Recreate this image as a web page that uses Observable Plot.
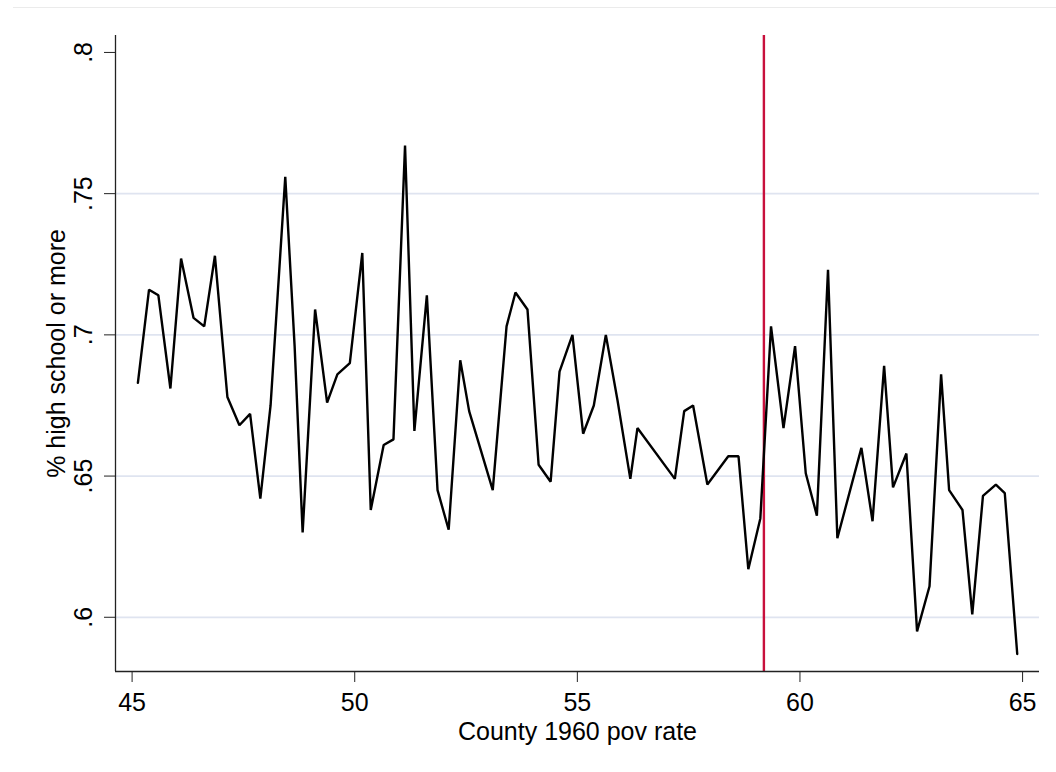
<!DOCTYPE html>
<html>
<head>
<meta charset="utf-8">
<script src="https://cdn.jsdelivr.net/npm/d3@7"></script>
<script src="https://cdn.jsdelivr.net/npm/@observablehq/plot@0.6"></script>
<style>
  html, body { margin: 0; padding: 0; background: #fff; }
  #wrap { position: relative; width: 1056px; height: 772px; }
  #topline { position: absolute; left: 13px; right: 0; top: 7px; height: 0; border-top: 1px solid #ebebeb; }
</style>
</head>
<body>
<div id="wrap"><div id="topline"></div><div id="chart"></div></div>
<script>
const povRate = [45.13,45.38,45.59,45.86,46.10,46.38,46.62,46.86,47.14,47.41,
  47.65,47.88,48.11,48.44,48.65,48.83,49.11,49.38,49.61,49.89,
  50.17,50.36,50.65,50.87,51.13,51.34,51.62,51.86,52.11,52.37,
  52.57,53.10,53.41,53.61,53.88,54.13,54.40,54.60,54.89,55.13,
  55.37,55.64,55.90,56.19,56.35,57.19,57.40,57.60,57.92,58.39,
  58.62,58.84,59.11,59.35,59.63,59.89,60.13,60.38,60.63,60.84,
  61.38,61.63,61.89,62.09,62.39,62.63,62.91,63.17,63.35,63.65,
  63.87,64.11,64.40,64.60,64.88];
const hsShare = [.683,.716,.714,.681,.727,.706,.703,.728,.678,.668,
  .672,.642,.675,.756,.696,.630,.709,.676,.686,.690,
  .729,.638,.661,.663,.767,.666,.714,.645,.631,.691,
  .673,.645,.703,.715,.709,.654,.648,.687,.700,.665,
  .675,.700,.677,.649,.667,.649,.673,.675,.647,.657,
  .657,.617,.635,.703,.667,.696,.651,.636,.723,.628,
  .660,.634,.689,.646,.658,.595,.611,.686,.645,.638,
  .601,.643,.647,.644,.587];
const cutoff = [59.19];
const xTicks = [45, 50, 55, 60, 65];
const yTicks = [0.6, 0.65, 0.7, 0.75, 0.8];
const yGrid = [0.6, 0.65, 0.7, 0.75];
const xTitle = "County 1960 pov rate";
const yTitle = "% high school or more";

const data = povRate.map((x, i) => ({x, y: hsShare[i]}));
const xDomain = [44.627, 65.38];
const yDomain = [0.5808, 0.806];
const fmtY = d => String(d).replace(/^0/, "");

const chart = Plot.plot({
  width: 1056,
  height: 772,
  marginTop: 35,
  marginBottom: 101,
  marginLeft: 115,
  marginRight: 17,
  style: {fontFamily: "'Liberation Sans', Arial, Helvetica, sans-serif", fontSize: "25px", color: "#000", background: "transparent"},
  x: {domain: xDomain},
  y: {domain: yDomain},
  marks: [
    Plot.ruleY(yGrid, {stroke: "#dfe4f0", strokeWidth: 1.7}),
    Plot.ruleX(cutoff, {stroke: "#c8103c", strokeWidth: 2.4}),
    Plot.line(data, {x: "x", y: "y", stroke: "#000", strokeWidth: 2.4, strokeLinejoin: "miter"}),
    Plot.ruleX([xDomain[0]], {stroke: "#222", strokeWidth: 1.3}),
    Plot.ruleY([yDomain[0]], {stroke: "#222", strokeWidth: 1.3}),
    Plot.axisX({ticks: xTicks, tickSize: 11, tickPadding: 11, tickFormat: d => String(d),
      label: xTitle, labelAnchor: "center", labelOffset: 68, labelArrow: "none", stroke: "#222"}),
    Plot.axisY({ticks: yTicks, tickSize: 11, tickRotate: -90, tickPadding: 13, tickFormat: fmtY,
      label: yTitle, labelAnchor: "center", labelOffset: 68, labelArrow: "none", stroke: "#222"})
  ]
});
document.getElementById("chart").appendChild(chart);
</script>
</body>
</html>
